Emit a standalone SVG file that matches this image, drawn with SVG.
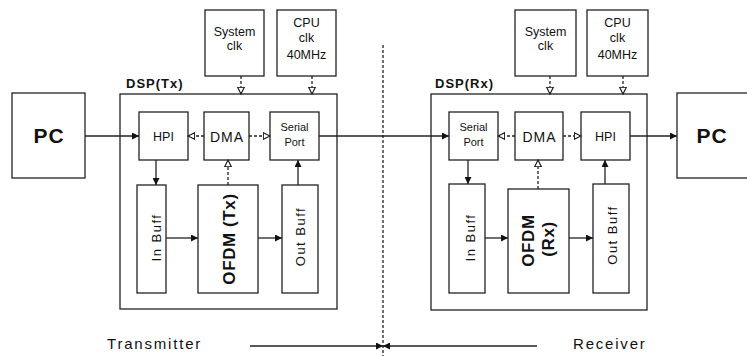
<svg xmlns="http://www.w3.org/2000/svg" width="747" height="356" viewBox="0 0 747 356">
  <style>
    .box { fill: #fff; stroke: #222; stroke-width: 1.3; }
    .frame { fill: none; stroke: #222; stroke-width: 1.3; }
    .ln { fill: none; stroke: #222; stroke-width: 1.3; }
    .dash { fill: none; stroke: #222; stroke-width: 1.3; stroke-dasharray: 3 2; }
    .t { font-family: "Liberation Sans", Arial, sans-serif; fill: #111; text-anchor: middle; }
    .s11 { font-size: 11px; }
    .s12 { font-size: 12.5px; }
    .pc { font-size: 21px; font-weight: bold; letter-spacing: 1px; }
    .dsp { font-size: 13px; font-weight: bold; letter-spacing: 1px; text-anchor: start; }
    .dma { font-size: 14px; letter-spacing: 1px; }
    .buf { font-size: 13px; letter-spacing: 1.5px; }
    .ofdm { font-size: 17px; font-weight: bold; letter-spacing: 0.6px; }
    .side { font-size: 15px; text-anchor: start; }
  </style>
  <defs>
    <marker id="fa" viewBox="0 0 10 10" refX="10" refY="5" markerWidth="9" markerHeight="7" orient="auto" markerUnits="userSpaceOnUse">
      <path d="M0,0 L10,5 L0,10 z" fill="#111"/>
    </marker>
    <marker id="oa" viewBox="0 0 12 12" refX="11" refY="6" markerWidth="8" markerHeight="8" orient="auto" markerUnits="userSpaceOnUse">
      <path d="M1,1 L11,6 L1,11 z" fill="#fff" stroke="#111" stroke-width="1.6"/>
    </marker>
  </defs>

  <!-- transmitter side -->
  <g id="pc-tx"><rect class="box" x="12" y="93" width="73" height="85"/><text class="t pc" x="49" y="143">PC</text></g>
  <g id="sysclk-tx"><rect class="box" x="205" y="10" width="59" height="66"/><text class="t s12" x="234.5" y="36">System</text><text class="t s12" x="234.5" y="50">clk</text></g>
  <g id="cpuclk-tx"><rect class="box" x="277" y="10" width="59" height="66"/><text class="t s12" x="306.5" y="27">CPU</text><text class="t s12" x="306.5" y="42">clk</text><text class="t s12" x="306.5" y="59">40MHz</text></g>
  <g id="dsp-tx"><rect class="frame" x="120" y="94" width="217" height="215"/><text class="t dsp" x="126" y="88">DSP(Tx)</text></g>
  <g id="hpi-tx"><rect class="box" x="139" y="112" width="49" height="48"/><text class="t s12" x="163.5" y="141">HPI</text></g>
  <g id="dma-tx"><rect class="box" x="204" y="112" width="45" height="48"/><text class="t dma" x="227" y="142">DMA</text></g>
  <g id="serial-tx"><rect class="box" x="270" y="112" width="49" height="48"/><text class="t s11" x="294.5" y="131">Serial</text><text class="t s11" x="294.5" y="146">Port</text></g>
  <g id="inbuff-tx"><rect class="box" x="137" y="185" width="29" height="108"/><text class="t buf" transform="translate(161 237.5) rotate(-90)">In Buff</text></g>
  <g id="ofdm-tx"><rect class="box" x="198" y="185" width="60" height="108"/><text class="t ofdm" transform="translate(235 239) rotate(-90)">OFDM (Tx)</text></g>
  <g id="outbuff-tx"><rect class="box" x="282" y="185" width="36" height="108"/><text class="t buf" transform="translate(305 236.5) rotate(-90)">Out Buff</text></g>

  <!-- receiver side -->
  <g id="sysclk-rx"><rect class="box" x="515" y="10" width="61" height="66"/><text class="t s12" x="545.5" y="36">System</text><text class="t s12" x="545.5" y="50">clk</text></g>
  <g id="cpuclk-rx"><rect class="box" x="587" y="10" width="61" height="66"/><text class="t s12" x="617.5" y="27">CPU</text><text class="t s12" x="617.5" y="42">clk</text><text class="t s12" x="617.5" y="59">40MHz</text></g>
  <g id="dsp-rx"><rect class="frame" x="431" y="94" width="216" height="216"/><text class="t dsp" x="435" y="88">DSP(Rx)</text></g>
  <g id="serial-rx"><rect class="box" x="449" y="112" width="49" height="48"/><text class="t s11" x="473.5" y="131">Serial</text><text class="t s11" x="473.5" y="146">Port</text></g>
  <g id="dma-rx"><rect class="box" x="515" y="112" width="48" height="48"/><text class="t dma" x="539.5" y="142">DMA</text></g>
  <g id="hpi-rx"><rect class="box" x="581" y="112" width="49" height="48"/><text class="t s12" x="605.5" y="141">HPI</text></g>
  <g id="inbuff-rx"><rect class="box" x="449" y="184" width="36" height="109"/><text class="t buf" transform="translate(475 237.5) rotate(-90)">In Buff</text></g>
  <g id="ofdm-rx"><rect class="box" x="508" y="189" width="61" height="104"/><text class="t ofdm" transform="translate(534 240.5) rotate(-90)">OFDM</text><text class="t ofdm" transform="translate(554 239) rotate(-90)">(Rx)</text></g>
  <g id="outbuff-rx"><rect class="box" x="593" y="184" width="36" height="109"/><text class="t buf" transform="translate(617 235) rotate(-90)">Out Buff</text></g>
  <g id="pc-rx"><rect class="box" x="677" y="93" width="90" height="85"/><text class="t pc" x="712" y="143">PC</text></g>

  <!-- side labels -->
  <g id="label-tx"><text class="t side" x="107" y="349" letter-spacing="1.8">Transmitter</text></g>
  <g id="label-rx"><text class="t side" x="573" y="349" letter-spacing="1.8">Receiver</text></g>

  <g id="connectors">
    <!-- transmitter -->
    <line class="ln" x1="85" y1="136" x2="139" y2="136" marker-end="url(#fa)"/>
    <line class="dash" x1="204" y1="136" x2="188" y2="136" marker-end="url(#oa)"/>
    <line class="dash" x1="249" y1="136" x2="270" y2="136" marker-end="url(#oa)"/>
    <line class="ln" x1="319" y1="136" x2="449" y2="136" marker-end="url(#fa)"/>
    <line class="dash" x1="241" y1="76" x2="241" y2="94" marker-end="url(#oa)"/>
    <line class="dash" x1="312" y1="76" x2="312" y2="94" marker-end="url(#oa)"/>
    <line class="ln" x1="156" y1="160" x2="156" y2="185" marker-end="url(#fa)"/>
    <line class="dash" x1="228" y1="185" x2="228" y2="160" marker-end="url(#oa)"/>
    <line class="ln" x1="298" y1="185" x2="298" y2="160" marker-end="url(#fa)"/>
    <line class="ln" x1="166" y1="238" x2="198" y2="238" marker-end="url(#fa)"/>
    <line class="ln" x1="258" y1="238" x2="282" y2="238" marker-end="url(#fa)"/>
    <!-- receiver -->
    <line class="dash" x1="515" y1="136" x2="498" y2="136" marker-end="url(#oa)"/>
    <line class="dash" x1="563" y1="136" x2="581" y2="136" marker-end="url(#oa)"/>
    <line class="ln" x1="630" y1="136" x2="677" y2="136" marker-end="url(#fa)"/>
    <line class="dash" x1="550" y1="76" x2="550" y2="94" marker-end="url(#oa)"/>
    <line class="dash" x1="623" y1="76" x2="623" y2="94" marker-end="url(#oa)"/>
    <line class="ln" x1="468" y1="160" x2="468" y2="184" marker-end="url(#fa)"/>
    <line class="dash" x1="538" y1="189" x2="538" y2="160" marker-end="url(#oa)"/>
    <line class="ln" x1="605" y1="184" x2="605" y2="160" marker-end="url(#fa)"/>
    <line class="ln" x1="485" y1="238" x2="508" y2="238" marker-end="url(#fa)"/>
    <line class="ln" x1="569" y1="238" x2="593" y2="238" marker-end="url(#fa)"/>
    <!-- divider and direction arrows -->
    <line class="dash" x1="383" y1="45" x2="383" y2="356"/>
    <line class="ln" x1="250" y1="346" x2="383" y2="346" marker-end="url(#fa)"/>
    <line class="ln" x1="537" y1="346" x2="383" y2="346" marker-end="url(#fa)"/>
  </g>
</svg>
